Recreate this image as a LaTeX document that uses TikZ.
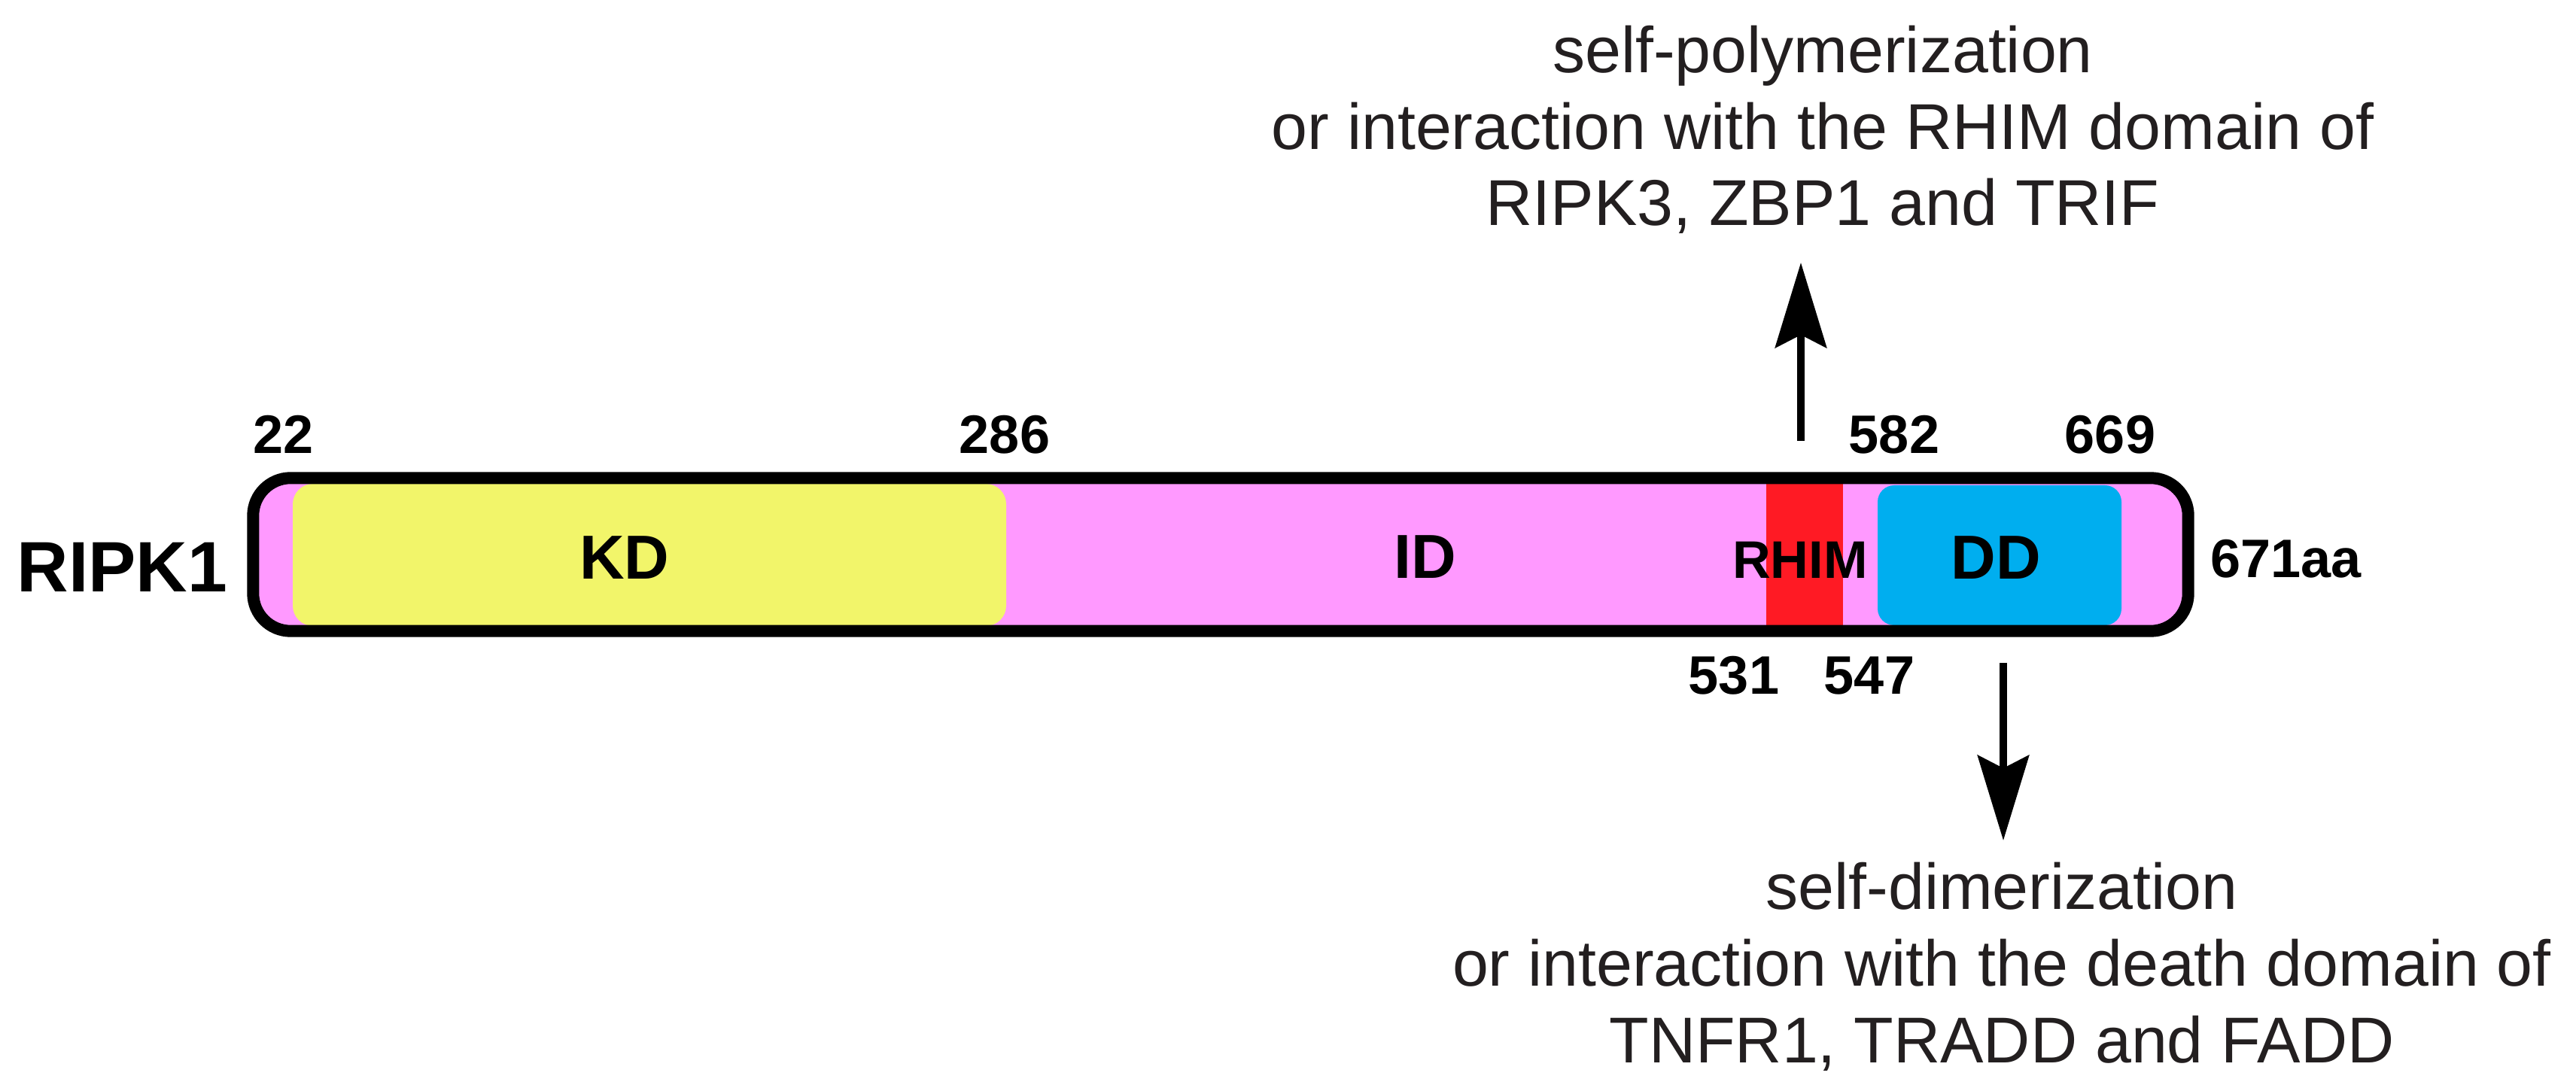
\documentclass[tikz,border=0pt]{standalone}
\usepackage{fontspec}
\setmainfont{Liberation Sans}
\usetikzlibrary{arrows.meta}
\definecolor{idpink}{RGB}{255,153,255}
\definecolor{kdyellow}{RGB}{242,245,106}
\definecolor{rhimred}{RGB}{255,26,36}
\definecolor{ddblue}{RGB}{0,174,239}
\definecolor{txtblack}{RGB}{35,31,32}
\begin{document}
\begin{tikzpicture}[
  domainbox/.style={inner sep=0pt, minimum height=1.89cm},
  num/.style={anchor=base, inner sep=0pt, font=\bfseries\fontsize{20.5}{24}\selectfont},
  dlabel/.style={anchor=base, inner sep=0pt, font=\bfseries\fontsize{23.5}{28}\selectfont},
  note/.style={anchor=base, inner sep=0pt, align=center, text=txtblack, font=\fontsize{24.5}{29}\selectfont},
  link/.style={line width=0.1cm, -{Stealth[length=1.13cm,width=0.68cm,inset=0.17cm]}}]
\useasboundingbox (0,0) rectangle (34.23,-14.50);
% protein bar and domains
\node[fill=idpink, rounded corners=0.5cm, inner sep=0pt, minimum width=25.7cm, minimum height=2.02cm] (bar) at (16.22,-7.37) {};
\node[domainbox, fill=kdyellow, rounded corners=0.27cm, minimum width=9.48cm] (kd) at (8.63,-7.375) {};
\node[inner sep=0pt, fill=rhimred, minimum width=1.02cm, minimum height=2.02cm] (rhim) at (23.98,-7.37) {};
\node[domainbox, fill=ddblue, rounded corners=0.22cm, minimum width=3.24cm, minimum height=1.86cm] (dd) at (26.57,-7.38) {};
\draw[line width=0.16cm, rounded corners=0.5cm] (bar.north west) rectangle (bar.south east);
% domain names
\node[dlabel] (kdl) at (8.30,-7.70) {KD};
\node[dlabel] (idl) at (18.94,-7.69) {ID};
\node[anchor=base, inner sep=0pt, font=\bfseries\fontsize{20}{24}\selectfont] (rhiml) at (23.92,-7.69) {RHIM};
\node[dlabel] (ddl) at (26.52,-7.70) {DD};
\node[anchor=base west, inner sep=0pt, font=\bfseries\fontsize{27}{32}\selectfont] (name) at (0.22,-7.87) {RIPK1};
\node[num, anchor=base west] (len) at (29.37,-7.68) {671aa};
% residue numbers
\node[num] (n22) at (3.77,-6.03) {22};
\node[num] (n286) at (13.35,-6.03) {286};
\node[num] (n582) at (25.17,-6.03) {582};
\node[num] (n669) at (28.04,-6.03) {669};
\node[num] (n531) at (23.04,-9.22) {531};
\node[num] (n547) at (24.84,-9.22) {547};
% interactions (base = last line)
\node[note] (poly) at (24.22,-3.00) {self-polymerization\\or interaction with the RHIM domain of\\RIPK3, ZBP1 and TRIF};
\node[note] (dimer) at (26.60,-14.12) {self-dimerization\\or interaction with the death domain of\\TNFR1, TRADD and FADD};
\coordinate (up0) at (23.93,-5.86);
\coordinate (up1) at (23.93,-3.49);
\draw[link] (up0) -- (up1);
\coordinate (dn0) at (26.62,-8.81);
\coordinate (dn1) at (26.62,-11.17);
\draw[link] (dn0) -- (dn1);
\end{tikzpicture}
\end{document}
